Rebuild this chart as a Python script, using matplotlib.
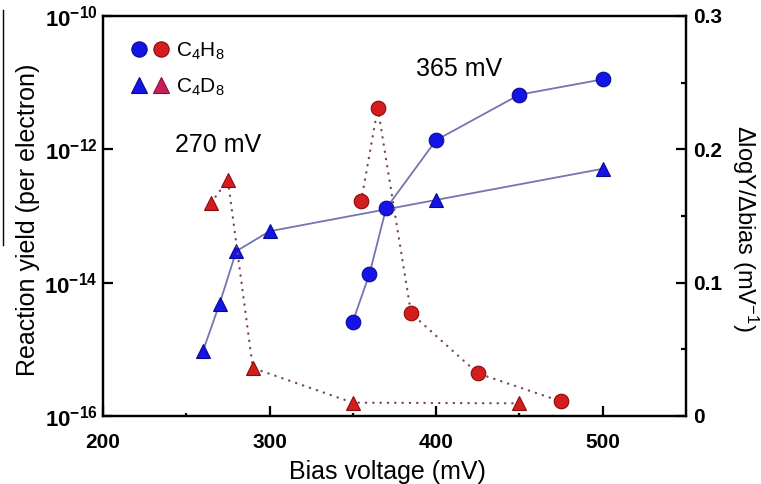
import numpy as np
import matplotlib
matplotlib.use("Agg")
import matplotlib.pyplot as plt
from matplotlib.lines import Line2D
from matplotlib.legend_handler import HandlerTuple
from matplotlib.ticker import NullLocator, FixedLocator

plt.rcParams['font.family'] = ['Liberation Sans', 'DejaVu Sans']
plt.rcParams['mathtext.fontset'] = 'custom'
plt.rcParams['mathtext.rm'] = 'Liberation Sans'
plt.rcParams['mathtext.it'] = 'Liberation Sans'
plt.rcParams['mathtext.bf'] = 'Liberation Sans:bold'

# reaction yield (left, log axis)
bias_h8 = [350, 360, 370, 400, 450, 500]
yield_h8 = [2.6e-15, 1.35e-14, 1.3e-13, 1.37e-12, 6.6e-12, 1.12e-11]
bias_d8 = [260, 270, 280, 300, 400, 500]
yield_d8 = [9.4e-16, 4.8e-15, 2.96e-14, 5.9e-14, 1.74e-13, 5.1e-13]

# d(logY)/d(bias) (right axis)
dbias_h8 = [355, 365, 385, 425, 475]
slope_h8 = [0.161, 0.231, 0.077, 0.032, 0.011]
dbias_d8 = [265, 275, 290, 350, 450]
slope_d8 = [0.160, 0.177, 0.036, 0.010, 0.0095]

x_ticks = [200, 300, 400, 500]
y_ticks = [1e-16, 1e-14, 1e-12, 1e-10]
y_ticklabels = [r'10$^{\mathbf{-16}}$', r'10$^{\mathbf{-14}}$',
                r'10$^{\mathbf{-12}}$', r'10$^{\mathbf{-10}}$']
r_ticks = [0, 0.1, 0.2, 0.3]
r_ticklabels = ['0', '0.1', '0.2', '0.3']

blue = '#1414e6'
blue_edge = '#0a0a90'
red = '#d41e1e'
red_edge = '#8a0a0a'
line_blue = '#7474b4'
dot_col = '#7a4858'

fig = plt.figure(figsize=(7.61, 4.84), dpi=100)
ax = fig.add_axes([0.1353, 0.1405, 0.766, 0.8265])
ax2 = ax.twinx()

ax.plot(bias_h8, yield_h8, '-', color=line_blue, lw=1.3, zorder=2)
ax.plot(bias_d8, yield_d8, '-', color=line_blue, lw=1.3, zorder=2)
ax.plot(bias_h8, yield_h8, 'o', ms=10.5, mfc=blue, mec=blue_edge, mew=0.8, zorder=4)
ax.plot(bias_d8, yield_d8, '^', ms=10.5, mfc=blue, mec=blue_edge, mew=0.8, zorder=4)

ax2.plot(dbias_h8, slope_h8, color=dot_col, lw=1.7, ls=(0, (0.1, 3.0)),
         dash_capstyle='round', zorder=2)
ax2.plot(dbias_d8, slope_d8, color=dot_col, lw=1.7, ls=(0, (0.1, 3.0)),
         dash_capstyle='round', zorder=2)
ax2.plot(dbias_h8, slope_h8, 'o', ms=10.5, mfc=red, mec=red_edge, mew=0.8, zorder=4)
ax2.plot(dbias_d8, slope_d8, '^', ms=10.5, mfc=red, mec=red_edge, mew=0.8, zorder=4)

ax.set_yscale('log')
ax.set_xlim(200, 550)
ax.set_ylim(1e-16, 1e-10)
ax2.set_ylim(0, 0.3)

ax.set_xticks(x_ticks)
ax.set_xticklabels([str(v) for v in x_ticks], fontsize=15, fontweight='bold')
ax.xaxis.set_minor_locator(FixedLocator([250, 350, 450]))
ax.set_yticks(y_ticks)
ax.set_yticklabels(y_ticklabels, fontsize=16, fontweight='bold')
ax.yaxis.set_minor_locator(NullLocator())
ax2.set_yticks(r_ticks)
ax2.set_yticklabels(r_ticklabels, fontsize=15, fontweight='bold')
ax2.yaxis.set_minor_locator(FixedLocator([0.05, 0.15, 0.25]))

ax.tick_params(axis='x', which='major', direction='in', length=7, width=1.6, pad=12)
ax.tick_params(axis='x', which='minor', direction='in', length=2.5, width=1.6)
ax.tick_params(axis='y', which='major', direction='in', length=7, width=1.6, pad=4)
ax2.tick_params(axis='y', which='major', direction='in', length=7, width=1.6, pad=5)
ax2.tick_params(axis='y', which='minor', direction='in', length=3.5, width=1.6)

for a in (ax, ax2):
    for s in a.spines.values():
        s.set_linewidth(1.6)

ax.set_xlabel('Bias voltage (mV)', fontsize=18)
ax.xaxis.set_label_coords(0.488, -0.11)
ax.set_ylabel('Reaction yield (per electron)', fontsize=18)
ax.yaxis.set_label_coords(-0.108, 0.49)
ax2.set_ylabel(r'$\Delta$logY/$\Delta$bias (mV$^{-1}$)', fontsize=17,
               rotation=-90, va='center')
ax2.yaxis.set_label_coords(1.101, 0.47)

ax.text(269, 1.15e-12, '270 mV', fontsize=18, ha='center', va='center')
ax.text(414, 1.6e-11, '365 mV', fontsize=18, ha='center', va='center')

# legend: blue and red marker side by side for each molecule
h1 = Line2D([], [], ls='none', marker='o', ms=11, mfc=blue, mec=blue_edge, mew=0.8)
h2 = Line2D([], [], ls='none', marker='o', ms=11, mfc=red, mec=red_edge, mew=0.8)
h3 = Line2D([], [], ls='none', marker='^', ms=11, mfc=blue, mec=blue_edge, mew=0.8)
h4 = Line2D([], [], ls='none', marker='^', ms=11, mfc='#c81e5a', mec='#80103a', mew=0.8)
ax2.legend([(h1, h2), (h3, h4)], [r'C$_4$H$_8$', r'C$_4$D$_8$'],
           handler_map={tuple: HandlerTuple(ndivide=None, pad=0.35)},
           loc='upper left', bbox_to_anchor=(0.02, 0.98), frameon=False,
           fontsize=15, handlelength=1.8, handletextpad=0.35, labelspacing=0.7,
           borderaxespad=0.4)

fig.add_artist(Line2D([3 / 761, 3 / 761], [1 - 10 / 484, 1 - 245 / 484],
                      color='black', lw=1.0, transform=fig.transFigure))

fig.savefig('out.png', dpi=100)
